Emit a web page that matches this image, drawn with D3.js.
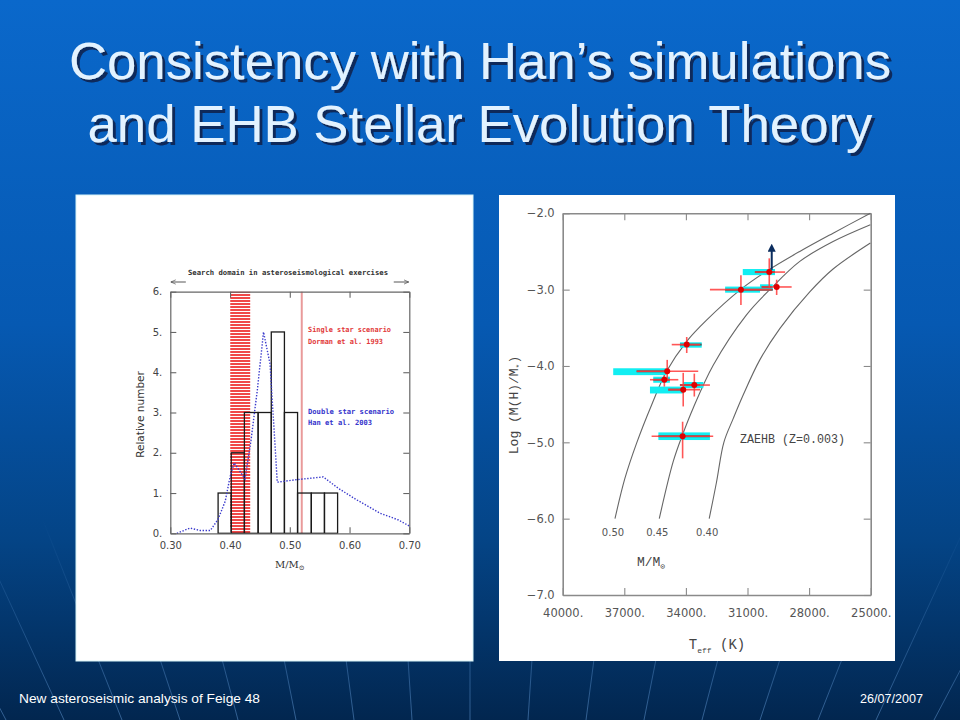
<!DOCTYPE html>
<html>
<head>
<meta charset="utf-8">
<script src="https://cdn.jsdelivr.net/npm/d3@7"></script>
<style>
    body { margin: 0; background: #0757ad; }
    svg { display: block; }
</style>
</head>
<body>
<div id="slide"></div>
<script>
// Slide texts
const titleLines = ["Consistency with Han’s simulations", "and EHB Stellar Evolution Theory"];
const footerLeft = "New asteroseismic analysis of Feige 48";
const footerRight = "26/07/2007";

// Left panel: mass distribution
const massTicks = [0.30, 0.40, 0.50, 0.60, 0.70];
const countTicks = [0, 1, 2, 3, 4, 5, 6];
const binEdges = [0.380, 0.402, 0.424, 0.447, 0.469, 0.491, 0.513, 0.536, 0.558, 0.580];
const binCounts = [1, 2, 3, 3, 5, 3, 1, 1, 1];
const searchBand = [0.4003, 0.4337];
const singleStarMass = 0.52;
const hanMass = [0.311, 0.333, 0.350, 0.367, 0.380, 0.392, 0.400, 0.407, 0.416, 0.425, 0.435, 0.446, 0.456, 0.467, 0.479, 0.510, 0.530, 0.556, 0.581, 0.612, 0.651, 0.682, 0.700];
const hanCount = [0.00, 0.13, 0.07, 0.07, 0.35, 0.80, 1.40, 1.75, 1.55, 1.35, 2.30, 3.60, 5.00, 4.20, 1.27, 1.33, 1.36, 1.40, 1.12, 0.83, 0.50, 0.33, 0.18];

// Right panel: ZAEHB tracks and stars
const teffTicks = [40000, 37000, 34000, 31000, 28000, 25000];
const logTicks = [-2, -3, -4, -5, -6, -7];
const trackMasses = ["0.50", "0.45", "0.40"];
const trackTeff = [
    [37454, 36968, 36400, 35670, 34941, 33968, 32995, 31341, 30076, 28454, 26832, 25016],
    [35297, 34616, 34162, 33643, 32670, 31049, 29914, 28454, 26832, 25016],
    [32865, 32508, 32151, 31697, 31211, 30400, 29427, 27968, 26832, 25016]
];
const trackLog = [
    [-6.00, -5.47, -5.01, -4.51, -4.07, -3.68, -3.40, -3.00, -2.76, -2.50, -2.26, -2.00],
    [-6.00, -5.25, -4.90, -4.55, -3.99, -3.33, -3.00, -2.63, -2.37, -2.15],
    [-6.00, -5.52, -5.00, -4.69, -4.38, -3.92, -3.51, -3.03, -2.73, -2.39]
];
const starTeff = [29940, 31320, 29580, 33960, 34910, 35050, 34130, 33590, 34160];
const starLog = [-2.77, -3.00, -2.965, -3.72, -4.07, -4.18, -4.31, -4.25, -4.92];
const errTeff = [[30640, 29170], [32830, 29820], [30310, 28850], [34690, 33310], [36400, 33400], [35750, 34370], [34860, 33310], [34290, 32830], [35670, 32670]];
const errLog = [[-2.59, -2.98], [-2.81, -3.20], [-2.87, -3.07], [-3.62, -3.83], [-3.92, -4.19], [-4.12, -4.27], [-4.09, -4.53], [-4.10, -4.40], [-4.73, -5.21]];
const seisTeff = [[31230, 29660], [32090, 30390], [30390, 29770], [34290, 33230], [37540, 34940], [35590, 34780], [35750, 34130], [34130, 33150], [35340, 32830]];
const seisLog = [[-2.73, -2.81], [-2.96, -3.04], [-2.93, -3.01], [-3.69, -3.76], [-4.03, -4.12], [-4.14, -4.22], [-4.27, -4.36], [-4.21, -4.29], [-4.87, -4.97]];
const fitTeff = [[30640, 29660], [32090, 29770], [30310, 29820], [34290, 33230], [36400, 34910], [35590, 34780], [34860, 34130], [34290, 33310], [35340, 32830]];
const arrowTeff = 29820;
const arrowLog = [-2.74, -2.45];

const W = 960, H = 720;
const svg = d3.select("#slide").append("svg")
    .attr("width", W)
    .attr("height", H);
const defs = svg.append("defs");

// Background gradient
const bg = defs.append("linearGradient").attr("id", "bg").attr("x1", 0).attr("y1", 0).attr("x2", 0).attr("y2", 1);
bg.append("stop").attr("offset", "0%").attr("stop-color", "#0a68cb");
bg.append("stop").attr("offset", "45%").attr("stop-color", "#0659b2");
bg.append("stop").attr("offset", "75%").attr("stop-color", "#044486");
bg.append("stop").attr("offset", "100%").attr("stop-color", "#02264f");
svg.append("rect").attr("width", W).attr("height", H).attr("fill", "url(#bg)");

// Faint rays at the bottom of the slide
const rayFade = defs.append("linearGradient").attr("id", "rayFade").attr("gradientUnits", "userSpaceOnUse")
    .attr("x1", 0).attr("y1", 520).attr("x2", 0).attr("y2", 720);
rayFade.append("stop").attr("offset", "0%").attr("stop-color", "#6fa8e6").attr("stop-opacity", 0);
rayFade.append("stop").attr("offset", "100%").attr("stop-color", "#6fa8e6").attr("stop-opacity", 0.45);
const focus = [470, 1600];
svg.append("g")
    .selectAll("line")
    .data(d3.range(-8, 9))
    .join("line")
        .attr("x1", d => focus[0] + d * 58 * (1600 - 520) / (1600 - 720))
        .attr("y1", 520)
        .attr("x2", d => focus[0] + d * 58)
        .attr("y2", 720)
        .attr("stroke", "url(#rayFade)")
        .attr("stroke-width", 1)
;

// Title with drop shadow
const shadow = defs.append("filter").attr("id", "titleShadow")
    .attr("x", "-5%").attr("y", "-20%").attr("width", "110%").attr("height", "140%");
shadow.append("feDropShadow")
    .attr("dx", 3).attr("dy", 3).attr("stdDeviation", 0.6)
    .attr("flood-color", "#0a2148").attr("flood-opacity", 0.85);
const gTitle = svg.append("g")
    .attr("font-family", "'Liberation Sans', Arial, sans-serif")
    .attr("font-size", 52)
    .attr("text-anchor", "middle")
    .attr("filter", "url(#titleShadow)");
const titleWidths = [822, 785];
const titleY = [79, 142];
gTitle.selectAll("text")
    .data(titleLines)
    .join("text")
        .attr("x", 480)
        .attr("y", (d, i) => titleY[i])
        .attr("textLength", (d, i) => titleWidths[i]).attr("lengthAdjust", "spacingAndGlyphs")
        .attr("fill", "#e2f2ff")
        .text(d => d)
;

// Footer
svg.append("text")
    .attr("x", 19).attr("y", 703)
    .attr("font-family", "'Liberation Sans', Arial, sans-serif").attr("font-size", 13)
    .attr("textLength", 241).attr("lengthAdjust", "spacingAndGlyphs")
    .attr("fill", "#ffffff")
    .text(footerLeft);
svg.append("text")
    .attr("x", 923).attr("y", 703)
    .attr("text-anchor", "end")
    .attr("font-family", "'Liberation Sans', Arial, sans-serif").attr("font-size", 13)
    .attr("textLength", 63).attr("lengthAdjust", "spacingAndGlyphs")
    .attr("fill", "#ffffff")
    .text(footerRight);

// White panels
svg.append("rect").attr("x", 76).attr("y", 195).attr("width", 397).attr("height", 466)
    .attr("fill", "#ffffff").attr("stroke", "#d8f4f8").attr("stroke-width", 1);
svg.append("rect").attr("x", 499).attr("y", 195).attr("width", 396).attr("height", 466)
    .attr("fill", "#ffffff");

// ---------------- Left panel ----------------
const xL = d3.scaleLinear().domain([0.30, 0.70]).range([170.3, 409.3]);
const yL = d3.scaleLinear().domain([0, 6]).range([533.3, 291.7]);
const gL = svg.append("g").attr("id", "left-chart");

// Red hatched search band
const hatch = defs.append("pattern").attr("id", "hatch")
    .attr("patternUnits", "userSpaceOnUse").attr("width", 8).attr("height", 3);
hatch.append("rect").attr("width", 8).attr("height", 3).attr("fill", "#ffffff");
hatch.append("rect").attr("width", 8).attr("height", 2).attr("fill", "#f04848");
gL.append("rect")
    .attr("x", xL(searchBand[0]))
    .attr("y", yL(6))
    .attr("width", xL(searchBand[1]) - xL(searchBand[0]))
    .attr("height", yL(0) - yL(6))
    .attr("fill", "url(#hatch)");

// Single star line
gL.append("line")
    .attr("x1", xL(singleStarMass)).attr("x2", xL(singleStarMass))
    .attr("y1", yL(0)).attr("y2", yL(6))
    .attr("stroke", "#e99a9a").attr("stroke-width", 2);

// Histogram
gL.append("g")
    .selectAll("rect")
    .data(binCounts)
    .join("rect")
        .attr("x", (d, i) => xL(binEdges[i]))
        .attr("y", d => yL(d))
        .attr("width", (d, i) => xL(binEdges[i + 1]) - xL(binEdges[i]))
        .attr("height", d => yL(0) - yL(d))
        .attr("fill", "none")
        .attr("stroke", "#1a1a1a")
        .attr("stroke-width", 1.3)
;

// Han et al. dotted curve
const hanLine = d3.line().x(d => xL(d[0])).y(d => yL(d[1]));
gL.append("path")
    .attr("d", hanLine(hanMass.map((m, i) => [m, hanCount[i]])))
    .attr("fill", "none")
    .attr("stroke", "#3a3acc")
    .attr("stroke-width", 1.4)
    .attr("stroke-dasharray", "1.4,1.6");

// Axes and frame
const fontL = "'DejaVu Sans', sans-serif";
function styleAxis(g, color) {
    g.select(".domain").attr("stroke", color).attr("stroke-width", 1.2);
    g.selectAll(".tick line").attr("stroke", color).attr("stroke-width", 1.1);
}
gL.append("g")
    .attr("transform", `translate(0,${yL(0)})`)
    .call(d3.axisBottom(xL).tickValues(massTicks).tickSizeInner(-6).tickSizeOuter(0).tickPadding(9).tickFormat(d3.format(".2f")))
    .call(g => styleAxis(g, "#666"))
    .call(g => g.selectAll(".tick text").attr("font-family", fontL).attr("font-size", 10).attr("fill", "#444"));
gL.append("g")
    .attr("transform", `translate(0,${yL(6)})`)
    .call(d3.axisTop(xL).tickValues(massTicks).tickSizeInner(-6).tickSizeOuter(0).tickFormat(""))
    .call(g => styleAxis(g, "#666"));
gL.append("g")
    .attr("transform", `translate(${xL(0.30)},0)`)
    .call(d3.axisLeft(yL).tickValues(countTicks).tickSizeInner(-6).tickSizeOuter(0).tickPadding(8).tickFormat(d => d + "."))
    .call(g => styleAxis(g, "#666"))
    .call(g => g.selectAll(".tick text").attr("font-family", fontL).attr("font-size", 10).attr("fill", "#444"));
gL.append("g")
    .attr("transform", `translate(${xL(0.70)},0)`)
    .call(d3.axisRight(yL).tickValues(countTicks).tickSizeInner(-6).tickSizeOuter(0).tickFormat(""))
    .call(g => styleAxis(g, "#666"));

// Labels and annotations
gL.append("text")
    .attr("transform", `translate(144,${(yL(0) + yL(6)) / 2 + 2}) rotate(-90)`)
    .attr("text-anchor", "middle")
    .attr("font-family", fontL).attr("font-size", 10.5).attr("fill", "#333")
    .text("Relative number");
const mLabel = gL.append("text")
    .attr("x", xL(0.50)).attr("y", 568)
    .attr("text-anchor", "middle")
    .attr("font-family", "'DejaVu Serif', serif").attr("font-size", 10).attr("fill", "#333");
mLabel.append("tspan").text("M/M");
mLabel.append("tspan").attr("font-size", 7).attr("dy", 2).text("⊙");

const monoFont = "'DejaVu Sans Mono', 'Liberation Mono', monospace";
gL.append("text")
    .attr("x", xL(0.497)).attr("y", 275)
    .attr("text-anchor", "middle")
    .attr("font-family", monoFont).attr("font-size", 7.2).attr("font-weight", "bold").attr("fill", "#333")
    .attr("textLength", 200).attr("lengthAdjust", "spacingAndGlyphs")
    .text("Search domain in asteroseismological exercises");
// search arrows
defs.append("marker").attr("id", "smallHead")
    .attr("viewBox", "0 0 10 10").attr("refX", 9).attr("refY", 5)
    .attr("markerWidth", 6).attr("markerHeight", 6).attr("orient", "auto")
    .append("path").attr("d", "M0,1 L9,5 L0,9").attr("fill", "none").attr("stroke", "#444").attr("stroke-width", 1.2);
gL.append("line")
    .attr("x1", xL(0.326)).attr("x2", xL(0.301)).attr("y1", 282).attr("y2", 282)
    .attr("stroke", "#444").attr("stroke-width", 0.9).attr("marker-end", "url(#smallHead)");
gL.append("line")
    .attr("x1", xL(0.674)).attr("x2", xL(0.699)).attr("y1", 282).attr("y2", 282)
    .attr("stroke", "#444").attr("stroke-width", 0.9).attr("marker-end", "url(#smallHead)");

const annotations = [
    { text: "Single star scenario", n: 4.99, color: "#e23a3a", w: 83 },
    { text: "Dorman et al. 1993", n: 4.69, color: "#e23a3a", w: 75 },
    { text: "Double star scenario", n: 2.975, color: "#3535cc", w: 86 },
    { text: "Han et al. 2003", n: 2.68, color: "#3535cc", w: 64 }
];
gL.append("g")
    .selectAll("text")
    .data(annotations)
    .join("text")
        .attr("x", xL(0.5305))
        .attr("y", d => yL(d.n))
        .attr("font-family", monoFont).attr("font-size", 7.2).attr("font-weight", "bold")
        .attr("fill", d => d.color)
        .attr("textLength", d => d.w).attr("lengthAdjust", "spacingAndGlyphs")
        .text(d => d.text)
;

// ---------------- Right panel ----------------
const xR = d3.scaleLinear().domain([40000, 25000]).range([562.7, 870.7]);
const yR = d3.scaleLinear().domain([-2, -7]).range([213.3, 595]);
const gR = svg.append("g").attr("id", "right-chart");
const fontR = "'DejaVu Sans', sans-serif";

// Axes and frame
gR.append("g")
    .attr("transform", `translate(0,${yR(-7)})`)
    .call(d3.axisBottom(xR).tickValues(teffTicks).tickSizeInner(-7).tickSizeOuter(0).tickPadding(14).tickFormat(d => d + "."))
    .call(g => styleAxis(g, "#8a8a8a"))
    .call(g => g.select(".domain").attr("stroke-width", 1.6))
    .call(g => g.selectAll(".tick text").attr("font-family", fontR).attr("font-size", 11.5).attr("fill", "#555"));
gR.append("g")
    .attr("transform", `translate(0,${yR(-2)})`)
    .call(d3.axisTop(xR).tickValues(teffTicks).tickSizeInner(-7).tickSizeOuter(0).tickFormat(""))
    .call(g => styleAxis(g, "#8a8a8a"))
    .call(g => g.select(".domain").attr("stroke-width", 1.6));
gR.append("g")
    .attr("transform", `translate(${xR(40000)},0)`)
    .call(d3.axisLeft(yR).tickValues(logTicks).tickSizeInner(-7).tickSizeOuter(0).tickPadding(8).tickFormat(d3.format(".1f")))
    .call(g => styleAxis(g, "#8a8a8a"))
    .call(g => g.select(".domain").attr("stroke-width", 1.6))
    .call(g => g.selectAll(".tick text").attr("font-family", fontR).attr("font-size", 11.5).attr("fill", "#555"));
gR.append("g")
    .attr("transform", `translate(${xR(25000)},0)`)
    .call(d3.axisRight(yR).tickValues(logTicks).tickSizeInner(-7).tickSizeOuter(0).tickFormat(""))
    .call(g => styleAxis(g, "#8a8a8a"))
    .call(g => g.select(".domain").attr("stroke-width", 1.6));

// ZAEHB tracks
const trackLine = d3.line().x(d => xR(d[0])).y(d => yR(d[1])).curve(d3.curveCatmullRom.alpha(0.5));
gR.append("g")
    .selectAll("path")
    .data(trackTeff)
    .join("path")
        .attr("d", (d, i) => trackLine(d.map((t, j) => [t, trackLog[i][j]])))
        .attr("fill", "none")
        .attr("stroke", "#666")
        .attr("stroke-width", 1.1)
;
gR.append("g")
    .selectAll("text")
    .data(trackMasses)
    .join("text")
        .attr("x", (d, i) => xR(trackTeff[i][0]) - 2)
        .attr("y", yR(-6) + 17)
        .attr("text-anchor", "middle")
        .attr("font-family", fontR).attr("font-size", 10).attr("fill", "#555")
        .text(d => d)
;

// Stars: cyan seismic boxes, dark fit lines, red error bars
const gStars = gR.append("g").attr("id", "stars");
gStars.selectAll("rect.seis")
    .data(seisTeff)
    .join("rect")
        .attr("class", "seis")
        .attr("x", d => xR(d[0]))
        .attr("width", d => xR(d[1]) - xR(d[0]))
        .attr("y", (d, i) => yR(seisLog[i][0]))
        .attr("height", (d, i) => yR(seisLog[i][1]) - yR(seisLog[i][0]))
        .attr("fill", "#12eef2")
;
gStars.selectAll("line.fit")
    .data(fitTeff)
    .join("line")
        .attr("class", "fit")
        .attr("x1", d => xR(d[0])).attr("x2", d => xR(d[1]))
        .attr("y1", (d, i) => yR(starLog[i])).attr("y2", (d, i) => yR(starLog[i]))
        .attr("stroke", "#5a5a5a").attr("stroke-width", 2)
;
gStars.selectAll("line.errx")
    .data(errTeff)
    .join("line")
        .attr("class", "errx")
        .attr("x1", d => xR(d[0])).attr("x2", d => xR(d[1]))
        .attr("y1", (d, i) => yR(starLog[i])).attr("y2", (d, i) => yR(starLog[i]))
        .attr("stroke", "#ff3a3a").attr("stroke-opacity", 0.85).attr("stroke-width", 1.6)
;
gStars.selectAll("line.erry")
    .data(errLog)
    .join("line")
        .attr("class", "erry")
        .attr("x1", (d, i) => xR(starTeff[i])).attr("x2", (d, i) => xR(starTeff[i]))
        .attr("y1", d => yR(d[0])).attr("y2", d => yR(d[1]))
        .attr("stroke", "#ff3a3a").attr("stroke-opacity", 0.85).attr("stroke-width", 1.6)
;
gStars.selectAll("circle")
    .data(starTeff)
    .join("circle")
        .attr("cx", d => xR(d))
        .attr("cy", (d, i) => yR(starLog[i]))
        .attr("r", 3)
        .attr("fill", "#e00000")
;

// Lower-limit arrow
defs.append("marker").attr("id", "navyHead")
    .attr("viewBox", "0 0 10 10").attr("refX", 5).attr("refY", 5)
    .attr("markerWidth", 4).attr("markerHeight", 4).attr("orient", "auto")
    .append("path").attr("d", "M0,0 L10,5 L0,10 Z").attr("fill", "#0b2d5e");
gR.append("line")
    .attr("x1", xR(arrowTeff)).attr("x2", xR(arrowTeff))
    .attr("y1", yR(arrowLog[0])).attr("y2", yR(arrowLog[1]))
    .attr("stroke", "#0b2d5e").attr("stroke-width", 2)
    .attr("marker-end", "url(#navyHead)");

// Axis labels and annotation
const serifMono = "'Liberation Mono', 'DejaVu Sans Mono', monospace";
const yLab = gR.append("text")
    .attr("transform", `translate(518,405) rotate(-90)`)
    .attr("text-anchor", "middle")
    .attr("font-family", serifMono).attr("font-size", 13).attr("fill", "#444");
yLab.append("tspan").text("Log (M(H)/M");
yLab.append("tspan").attr("font-size", 8).attr("dy", 3).text("*");
yLab.append("tspan").attr("dy", -3).text(")");

const xLab = gR.append("text")
    .attr("x", 717).attr("y", 649)
    .attr("text-anchor", "middle")
    .attr("font-family", serifMono).attr("font-size", 14).attr("fill", "#444");
xLab.append("tspan").text("T");
xLab.append("tspan").attr("font-size", 8).attr("dy", 4).text("eff");
xLab.append("tspan").attr("dy", -4).text(" (K)");

const mLab = gR.append("text")
    .attr("x", 651).attr("y", 566)
    .attr("text-anchor", "middle")
    .attr("font-family", serifMono).attr("font-size", 13).attr("fill", "#444");
mLab.append("tspan").text("M/M");
mLab.append("tspan").attr("font-size", 8).attr("dy", 3).text("⊙");

gR.append("text")
    .attr("x", 740).attr("y", 443)
    .attr("font-family", serifMono).attr("font-size", 12.5).attr("fill", "#444")
    .attr("textLength", 105).attr("lengthAdjust", "spacingAndGlyphs")
    .text("ZAEHB (Z=0.003)");
</script>
</body>
</html>
